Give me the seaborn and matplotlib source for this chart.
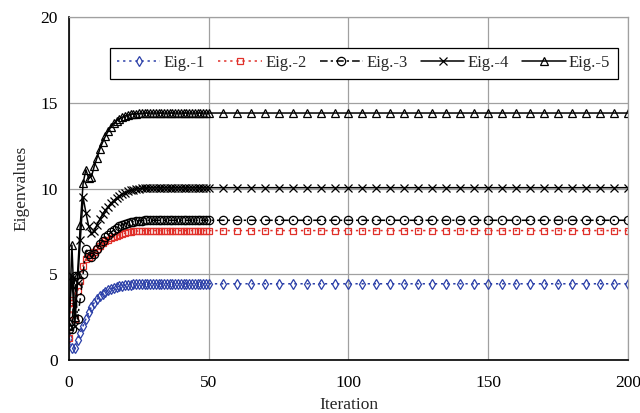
import numpy as np
import pandas as pd
import matplotlib
matplotlib.use("Agg")
import matplotlib.pyplot as plt
import seaborn as sns

# iterations: every step up to 50, then every 5
iterations = list(range(0, 51)) + list(range(55, 201, 5))
n_tail = len(iterations) - 31

eig1_head = [1.3, 0.7, 0.7, 1.2, 1.6, 2.0, 2.4, 2.8, 3.1, 3.35, 3.55, 3.72, 3.86, 3.98, 4.07,
             4.15, 4.21, 4.26, 4.30, 4.33, 4.36, 4.38, 4.40, 4.41, 4.42, 4.43, 4.44, 4.44, 4.45, 4.45, 4.45]
eig2_head = [1.3, 3.5, 2.4, 4.0, 4.6, 5.5, 5.9, 6.0, 6.1, 6.3, 6.5, 6.65, 6.8, 6.92, 7.02,
             7.1, 7.18, 7.25, 7.31, 7.36, 7.4, 7.44, 7.47, 7.5, 7.52, 7.53, 7.54, 7.55, 7.55, 7.55, 7.55]
eig3_head = [1.8, 1.8, 4.9, 2.4, 3.6, 5.0, 6.5, 6.2, 6.0, 6.2, 6.5, 6.75, 6.95, 7.15, 7.3,
             7.45, 7.58, 7.7, 7.8, 7.88, 7.95, 8.0, 8.04, 8.07, 8.1, 8.12, 8.13, 8.14, 8.15, 8.15, 8.15]
eig4_head = [2.4, 4.9, 2.0, 4.5, 7.0, 9.5, 8.6, 7.8, 7.4, 7.5, 7.9, 8.2, 8.5, 8.75, 8.95,
             9.15, 9.3, 9.45, 9.58, 9.68, 9.76, 9.83, 9.89, 9.94, 9.97, 10.0, 10.02, 10.03, 10.04, 10.05, 10.05]
eig5_head = [2.0, 6.7, 2.5, 5.0, 7.9, 10.3, 11.1, 10.6, 10.7, 11.3, 11.8, 12.3, 12.7, 13.05, 13.35,
             13.6, 13.8, 13.95, 14.07, 14.16, 14.23, 14.28, 14.32, 14.35, 14.37, 14.38, 14.39, 14.4, 14.4, 14.4, 14.4]

eig1 = eig1_head + [4.45] * n_tail
eig2 = eig2_head + [7.55] * n_tail
eig3 = eig3_head + [8.15] * n_tail
eig4 = eig4_head + [10.05] * n_tail
eig5 = eig5_head + [14.4] * n_tail

labels = ["Eig.-1", "Eig.-2", "Eig.-3", "Eig.-4", "Eig.-5"]
series = [eig1, eig2, eig3, eig4, eig5]

sns.set_style("white")
plt.rcParams["font.family"] = ["Liberation Serif", "DejaVu Serif"]

fig = plt.figure(figsize=(6.4, 4.13), dpi=100)
ax = fig.add_axes([0.108, 0.128, 0.873, 0.831])

styles = [
    dict(color="#2b3fa8", marker="d", linestyle=(0, (1.5, 2.5)), ms=5),
    dict(color="#e0302a", marker="s", linestyle=(0, (1.5, 2.5)), ms=5),
    dict(color="black", marker="o", linestyle=(0, (5, 2, 1.5, 2)), ms=6),
    dict(color="black", marker="x", linestyle="-", ms=6),
    dict(color="black", marker="^", linestyle="-", ms=6),
]

df = pd.DataFrame({"Iteration": iterations})
for lab, vals in zip(labels, series):
    df[lab] = vals

for lab, st in zip(labels, styles):
    sns.lineplot(data=df, x="Iteration", y=lab, ax=ax, label=lab,
                 color=st["color"], marker=st["marker"], linestyle=st["linestyle"],
                 markersize=st["ms"], markerfacecolor="none", markeredgecolor=st["color"],
                 markeredgewidth=0.9, linewidth=1.1)

ax.set_xlim(0, 200)
ax.set_ylim(0, 20)
ax.set_xticks([0, 50, 100, 150, 200])
ax.set_yticks([0, 5, 10, 15, 20])
ax.grid(True, color="#a0a0a0", linewidth=0.9)
ax.set_axisbelow(True)
for s in ["top", "right"]:
    ax.spines[s].set_color("#a0a0a0")
    ax.spines[s].set_linewidth(0.9)
for s in ["left", "bottom"]:
    ax.spines[s].set_color("black")
    ax.spines[s].set_linewidth(1.2)
ax.tick_params(axis="x", length=0, labelsize=12.5, pad=11, colors="black")
ax.tick_params(axis="y", length=0, labelsize=12.5, pad=8, colors="black")
ax.set_xlabel("Iteration", fontsize=12.5, labelpad=4)
ax.set_ylabel("Eigenvalues", fontsize=12.5, labelpad=8)

leg = ax.legend(loc="upper right", bbox_to_anchor=(0.997, 0.935), ncol=5, fontsize=12,
                frameon=True, fancybox=False, edgecolor="black", framealpha=1,
                handlelength=2.6, handletextpad=0.2, columnspacing=0.8, borderpad=0.45)
leg.get_frame().set_linewidth(0.9)

fig.savefig("out.png", dpi=100)
